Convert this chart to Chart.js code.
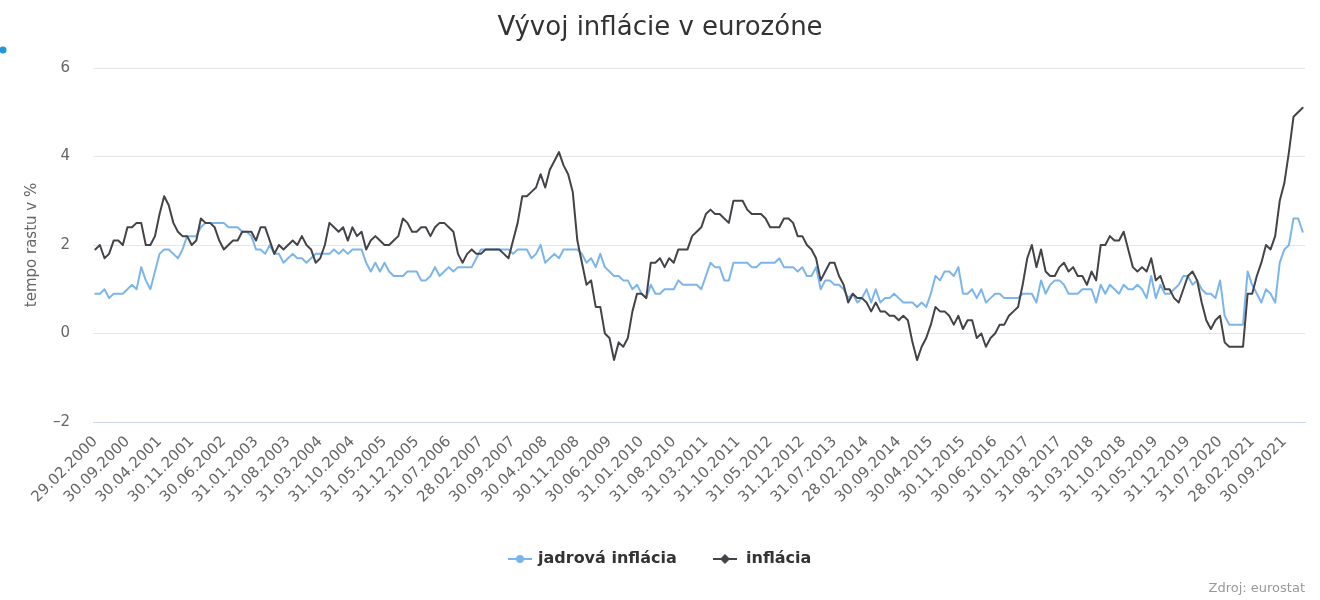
<!DOCTYPE html>
<html>
<head>
<meta charset="utf-8">
<script src="https://cdn.jsdelivr.net/npm/chart.js@4.4.1/dist/chart.umd.min.js"></script>
<style>
  html, body { margin: 0; padding: 0; background: #fff; }
  #wrap { position: relative; width: 1320px; height: 600px; }
</style>
</head>
<body>
<div id="wrap"><canvas id="c" width="1320" height="600"></canvas></div>
<script>
// ---------- DATA ----------
const startYear = 2000, startMonth = 2;   // first category: 29.02.2000
const endYear = 2022, endMonth = 1;       // last category: 31.01.2022

// core inflation ("jadrová inflácia"), monthly, Feb 2000 .. Jan 2022
const coreInflation = [
  0.9, 0.9, 1.0, 0.8, 0.9, 0.9, 0.9, 1.0, 1.1, 1.0, 1.5,
  1.2, 1.0, 1.4, 1.8, 1.9, 1.9, 1.8, 1.7, 1.9, 2.2, 2.2, 2.2,
  2.4, 2.5, 2.5, 2.5, 2.5, 2.5, 2.4, 2.4, 2.4, 2.3, 2.3, 2.2,
  1.9, 1.9, 1.8, 2.0, 1.8, 1.8, 1.6, 1.7, 1.8, 1.7, 1.7, 1.6,
  1.7, 1.8, 1.8, 1.8, 1.8, 1.9, 1.8, 1.9, 1.8, 1.9, 1.9, 1.9,
  1.6, 1.4, 1.6, 1.4, 1.6, 1.4, 1.3, 1.3, 1.3, 1.4, 1.4, 1.4,
  1.2, 1.2, 1.3, 1.5, 1.3, 1.4, 1.5, 1.4, 1.5, 1.5, 1.5, 1.5,
  1.7, 1.9, 1.9, 1.9, 1.9, 1.9, 1.9, 1.9, 1.8, 1.9, 1.9, 1.9,
  1.7, 1.8, 2.0, 1.6, 1.7, 1.8, 1.7, 1.9, 1.9, 1.9, 1.9, 1.8,
  1.6, 1.7, 1.5, 1.8, 1.5, 1.4, 1.3, 1.3, 1.2, 1.2, 1.0, 1.1,
  0.9, 0.8, 1.1, 0.9, 0.9, 1.0, 1.0, 1.0, 1.2, 1.1, 1.1, 1.1,
  1.1, 1.0, 1.3, 1.6, 1.5, 1.5, 1.2, 1.2, 1.6, 1.6, 1.6, 1.6,
  1.5, 1.5, 1.6, 1.6, 1.6, 1.6, 1.7, 1.5, 1.5, 1.5, 1.4, 1.5,
  1.3, 1.3, 1.5, 1.0, 1.2, 1.2, 1.1, 1.1, 1.0, 0.8, 0.9, 0.7,
  0.8, 1.0, 0.7, 1.0, 0.7, 0.8, 0.8, 0.9, 0.8, 0.7, 0.7, 0.7,
  0.6, 0.7, 0.6, 0.9, 1.3, 1.2, 1.4, 1.4, 1.3, 1.5, 0.9, 0.9,
  1.0, 0.8, 1.0, 0.7, 0.8, 0.9, 0.9, 0.8, 0.8, 0.8, 0.8, 0.9,
  0.9, 0.9, 0.7, 1.2, 0.9, 1.1, 1.2, 1.2, 1.1, 0.9, 0.9, 0.9,
  1.0, 1.0, 1.0, 0.7, 1.1, 0.9, 1.1, 1.0, 0.9, 1.1, 1.0, 1.0,
  1.1, 1.0, 0.8, 1.3, 0.8, 1.1, 0.9, 0.9, 1.0, 1.1, 1.3, 1.3,
  1.1, 1.2, 1.0, 0.9, 0.9, 0.8, 1.2, 0.4, 0.2, 0.2, 0.2, 0.2,
  1.4, 1.1, 0.9, 0.7, 1.0, 0.9, 0.7, 1.6, 1.9, 2.0, 2.6, 2.6,
  2.3
];

// headline inflation ("inflácia"), monthly, Feb 2000 .. Jan 2022
const headlineInflation = [
  1.9, 2.0, 1.7, 1.8, 2.1, 2.1, 2.0, 2.4, 2.4, 2.5, 2.5,
  2.0, 2.0, 2.2, 2.7, 3.1, 2.9, 2.5, 2.3, 2.2, 2.2, 2.0, 2.1,
  2.6, 2.5, 2.5, 2.4, 2.1, 1.9, 2.0, 2.1, 2.1, 2.3, 2.3, 2.3,
  2.1, 2.4, 2.4, 2.1, 1.8, 2.0, 1.9, 2.0, 2.1, 2.0, 2.2, 2.0,
  1.9, 1.6, 1.7, 2.0, 2.5, 2.4, 2.3, 2.4, 2.1, 2.4, 2.2, 2.3,
  1.9, 2.1, 2.2, 2.1, 2.0, 2.0, 2.1, 2.2, 2.6, 2.5, 2.3, 2.3,
  2.4, 2.4, 2.2, 2.4, 2.5, 2.5, 2.4, 2.3, 1.8, 1.6, 1.8, 1.9,
  1.8, 1.8, 1.9, 1.9, 1.9, 1.9, 1.8, 1.7, 2.1, 2.5, 3.1, 3.1,
  3.2, 3.3, 3.6, 3.3, 3.7, 3.9, 4.1, 3.8, 3.6, 3.2, 2.1, 1.6,
  1.1, 1.2, 0.6, 0.6, 0.0, -0.1, -0.6, -0.2, -0.3, -0.1, 0.5, 0.9,
  0.9, 0.8, 1.6, 1.6, 1.7, 1.5, 1.7, 1.6, 1.9, 1.9, 1.9, 2.2,
  2.3, 2.4, 2.7, 2.8, 2.7, 2.7, 2.6, 2.5, 3.0, 3.0, 3.0, 2.8,
  2.7, 2.7, 2.7, 2.6, 2.4, 2.4, 2.4, 2.6, 2.6, 2.5, 2.2, 2.2,
  2.0, 1.9, 1.7, 1.2, 1.4, 1.6, 1.6, 1.3, 1.1, 0.7, 0.9, 0.8,
  0.8, 0.7, 0.5, 0.7, 0.5, 0.5, 0.4, 0.4, 0.3, 0.4, 0.3, -0.2,
  -0.6, -0.3, -0.1, 0.2, 0.6, 0.5, 0.5, 0.4, 0.2, 0.4, 0.1, 0.3,
  0.3, -0.1, 0.0, -0.3, -0.1, 0.0, 0.2, 0.2, 0.4, 0.5, 0.6, 1.1,
  1.7, 2.0, 1.5, 1.9, 1.4, 1.3, 1.3, 1.5, 1.6, 1.4, 1.5, 1.3,
  1.3, 1.1, 1.4, 1.2, 2.0, 2.0, 2.2, 2.1, 2.1, 2.3, 1.9, 1.5,
  1.4, 1.5, 1.4, 1.7, 1.2, 1.3, 1.0, 1.0, 0.8, 0.7, 1.0, 1.3,
  1.4, 1.2, 0.7, 0.3, 0.1, 0.3, 0.4, -0.2, -0.3, -0.3, -0.3, -0.3,
  0.9, 0.9, 1.3, 1.6, 2.0, 1.9, 2.2, 3.0, 3.4, 4.1, 4.9, 5.0,
  5.1
];

const yTicks = [-2, 0, 2, 4, 6];
const xLabelEvery = 7;   // every 7th month is labelled

const seriesNames = ['jadrová inflácia', 'inflácia'];
const chartTitle = 'Vývoj inflácie v eurozóne';
const yAxisTitle = 'tempo rastu v %';
const creditText = 'Zdroj: eurostat';

// month-end date labels (dd.mm.yyyy)
const categories = [];
for (let y = startYear, m = startMonth; y < endYear || (y === endYear && m <= endMonth); ) {
  const d = new Date(y, m, 0).getDate();
  categories.push(String(d).padStart(2, '0') + '.' + String(m).padStart(2, '0') + '.' + y);
  m++; if (m > 12) { m = 1; y++; }
}

// ---------- STYLE ----------
const FONT = '"DejaVu Sans", Verdana, sans-serif';
const BLUE = '#7cb5ec';
const DARK = '#434348';
const PLOT_LEFT = 93, PLOT_RIGHT = 1305, PLOT_TOP = 68, PLOT_BOTTOM = 422;

const decorPlugin = {
  id: 'decor',
  afterDraw(chart) {
    const ctx = chart.ctx;
    ctx.save();
    // title
    ctx.fillStyle = '#333333';
    ctx.font = '26px ' + FONT;
    ctx.textAlign = 'center';
    ctx.textBaseline = 'middle';
    ctx.fillText(chartTitle, 660, 28);
    // small blue dot at top-left
    ctx.fillStyle = '#1f97d9';
    ctx.beginPath(); ctx.arc(3, 50, 3.5, 0, Math.PI * 2); ctx.fill();
    // legend
    const ly = 559;
    ctx.lineWidth = 2;
    ctx.strokeStyle = BLUE; ctx.fillStyle = BLUE;
    ctx.beginPath(); ctx.moveTo(508, ly); ctx.lineTo(532, ly); ctx.stroke();
    ctx.beginPath(); ctx.arc(520, ly, 4, 0, Math.PI * 2); ctx.fill();
    ctx.strokeStyle = DARK; ctx.fillStyle = DARK;
    ctx.beginPath(); ctx.moveTo(713, ly); ctx.lineTo(737, ly); ctx.stroke();
    ctx.beginPath(); ctx.moveTo(725, ly - 5); ctx.lineTo(730, ly); ctx.lineTo(725, ly + 5); ctx.lineTo(720, ly); ctx.closePath(); ctx.fill();
    ctx.fillStyle = '#333333';
    ctx.font = 'bold 16px ' + FONT;
    ctx.textAlign = 'left';
    ctx.fillText(seriesNames[0], 538, ly);
    ctx.fillText(seriesNames[1], 746, ly);
    // credits
    ctx.fillStyle = '#999999';
    ctx.font = '13px ' + FONT;
    ctx.textAlign = 'right';
    ctx.textBaseline = 'alphabetic';
    ctx.fillText(creditText, 1305, 592);
    ctx.restore();
  }
};

new Chart(document.getElementById('c'), {
  type: 'line',
  data: {
    labels: categories,
    datasets: [
      { label: seriesNames[0], data: coreInflation, borderColor: BLUE, backgroundColor: BLUE,
        borderWidth: 2, pointRadius: 0, tension: 0, order: 1,
        borderJoinStyle: 'round', borderCapStyle: 'round' },
      { label: seriesNames[1], data: headlineInflation, borderColor: DARK, backgroundColor: DARK,
        borderWidth: 2, pointRadius: 0, tension: 0, order: 0,
        borderJoinStyle: 'round', borderCapStyle: 'round' }
    ]
  },
  options: {
    responsive: false,
    animation: false,
    events: [],
    layout: { padding: { top: PLOT_TOP, left: 0, right: 1320 - PLOT_RIGHT, bottom: 0 } },
    plugins: { legend: { display: false }, title: { display: false }, tooltip: { enabled: false } },
    scales: {
      x: {
        type: 'category',
        offset: true,
        grid: { display: false, drawTicks: false },
        border: { display: true, color: '#ccd6eb', width: 1 },
        ticks: {
          autoSkip: false, maxRotation: 45, minRotation: 45,
          color: '#666666', font: { family: FONT, size: 15 }, padding: 11,
          callback: function (v, i) { return i % xLabelEvery === 0 ? categories[i] : null; }
        },
        afterFit: function (s) { s.height = 600 - PLOT_BOTTOM; }
      },
      y: {
        min: yTicks[0], max: yTicks[yTicks.length - 1],
        afterBuildTicks: function (s) { s.ticks = yTicks.map(v => ({ value: v })); },
        grid: { color: (c) => (c.tick && c.tick.value === yTicks[0]) ? '#ccd6eb' : '#e6e6e6', drawTicks: false, lineWidth: 1 },
        border: { display: false },
        ticks: {
          color: '#666666', font: { family: FONT, size: 15 }, padding: 23,
          callback: (v) => (v < 0 ? '\u2013' + Math.abs(v) : String(v))
        },
        title: { display: true, text: yAxisTitle, color: '#666666', font: { family: FONT, size: 15 }, padding: { top: 23, bottom: 0 } },
        afterFit: function (s) { s.width = PLOT_LEFT; }
      }
    }
  },
  plugins: [decorPlugin]
});
</script>
</body>
</html>
